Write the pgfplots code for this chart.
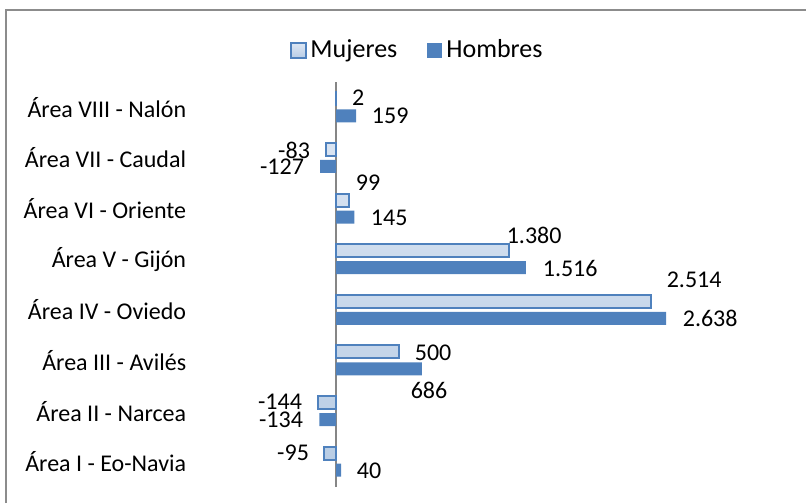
\documentclass[border=0pt]{standalone}
\usepackage{fontspec}
\setmainfont{Carlito}
\usepackage{pgfplots}
\usepackage{pgfplotstable}
\pgfplotsset{compat=1.18}

\definecolor{hombres}{HTML}{4F81BD}
\definecolor{mujTop}{HTML}{DFE8F4}
\definecolor{mujBot}{HTML}{B9CDE5}
\definecolor{marco}{HTML}{8C8C8C}
\definecolor{cero}{HTML}{868686}

% values per area (0 = Eo-Navia ... 7 = Nalon)
\pgfplotstableread{
y mujeres hombres
0 -95 40
1 -144 -134
2 500 686
3 2514 2638
4 1380 1516
5 99 145
6 -83 -127
7 2 159
}\areas

% data labels, placed where the reference puts them
\pgfplotstableread{
x y t
176 7.184 2
432 6.829 159
-336 6.157 -83
-432 5.821 -127
256 5.505 99
424 4.814 145
1583 4.478 1.380
1871 3.826 1.516
2862 3.589 2.514
2990 2.838 2.638
775 2.147 500
743 1.416 686
-448 1.179 -144
-440 0.823 -134
-344 0.172 -95
264 -0.184 40
}\etiquetas

\begin{document}
\begin{tikzpicture}
\path[use as bounding box] (0,0) rectangle (403pt,251.5pt);
\draw[marco, line width=1pt] (2.75pt,0) -- (2.75pt,246.25pt) -- (403pt,246.25pt);
\begin{axis}[
  at={(105.5pt,8pt)}, anchor=south west,
  scale only axis, width=281.5pt, height=202.5pt,
  xmin=-1000, xmax=3500, ymin=-0.5, ymax=7.5,
  axis line style={draw=none},
  xtick=\empty,
  ytick={0,...,7},
  yticklabels={Área I - Eo-Navia, Área II - Narcea, Área III - Avilés, Área IV - Oviedo,
    Área V - Gijón, Área VI - Oriente, Área VII - Caudal, Área VIII - Nalón},
  major tick length=0pt,
  yticklabel style={font=\fontsize{12}{14}\selectfont, anchor=east, inner sep=0pt, xshift=-12.25pt},
  extra x ticks={0}, extra x tick labels={},
  extra x tick style={grid=major, major grid style={cero, line width=0.75pt}},
  legend columns=2,
  legend style={at={(0.3677,1.079)}, anchor=center, draw=none, fill=none,
    font=\fontsize{13}{15}\selectfont,
    /tikz/every even column/.append style={column sep=13pt}},
  legend image code/.code={\path[#1] (0pt,-3.75pt) rectangle (7.5pt,3.75pt);},
  clip=false,
]
\addplot[xbar, bar width=6.5pt, bar shift=4.25pt, draw=hombres, line width=1pt,
  top color=mujTop, bottom color=mujBot] table[x=mujeres, y=y] {\areas};
\addplot[xbar, bar width=6.5pt, bar shift=-4.25pt, draw=none, fill=hombres]
  table[x=hombres, y=y] {\areas};
\addplot[only marks, mark=text, text mark={},
  nodes near coords, point meta=explicit symbolic,
  nodes near coords style={font=\fontsize{12}{14}\selectfont, anchor=center, inner sep=0pt, text=black}]
  table[x=x, y=y, meta=t] {\etiquetas};
\legend{Mujeres, Hombres}
\end{axis}
\end{tikzpicture}
\end{document}
